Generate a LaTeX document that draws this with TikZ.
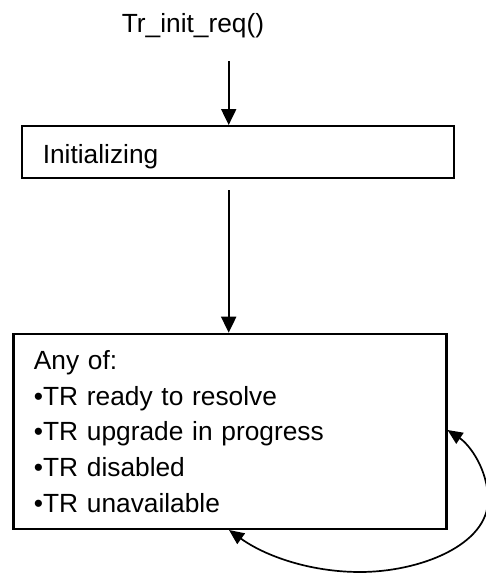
\documentclass[tikz,border=0pt]{standalone}
\usepackage{fontspec}
\setmainfont{Liberation Sans}
\usetikzlibrary{arrows.meta}

\begin{document}
\begin{tikzpicture}[x=1pt,y=-1pt,
  txt/.style={font=\fontsize{26.3}{35.7}\selectfont, inner sep=0pt},
  statebox/.style={draw, line width=2.2pt, txt, align=left, anchor=north west},
  arr/.style={line width=2pt, -{Triangle[length=16pt,width=15pt]}},
  looparr/.style={line width=1.7pt, {Triangle[length=15pt,width=13pt]}-{Triangle[length=15pt,width=13pt]}}]
  \useasboundingbox (0,0) rectangle (485,573);

  % entry call
  \node[txt, anchor=base] (call) at (193,32) {Tr\_init\_req()};

  % states
  \node[statebox, text width=390pt, minimum height=52pt, inner xsep=21pt,
        text height=37pt, text depth=15pt, inner ysep=0pt]
        (init) at (20.7,125) {Initializing};
  \node[statebox, text width=392pt, minimum height=195pt, inner xsep=20.5pt, inner ysep=16.5pt]
        (ready) at (12.3,332.7) {Any of:\\
        •TR ready to resolve\\
        •TR upgrade in progress\\
        •TR disabled\\
        •TR unavailable};

  % transitions
  \coordinate (c1) at (228.7,61);
  \coordinate (c2) at (228.7,190);
  \draw[arr] (c1) -- (c1 |- init.north);
  \draw[arr] (c2) -- (c2 |- ready.north);

  % self loop
  \coordinate (l1) at (229,0);
  \coordinate (l2) at (0,430);
  \draw[looparr] (l1 |- ready.south)
      .. controls (265,556) and (310,572) .. (360,572)
      .. controls (420,572) and (488,545) .. (488,500)
      .. controls (488,470) and (470,445) .. (ready.east |- l2);
\end{tikzpicture}
\end{document}
